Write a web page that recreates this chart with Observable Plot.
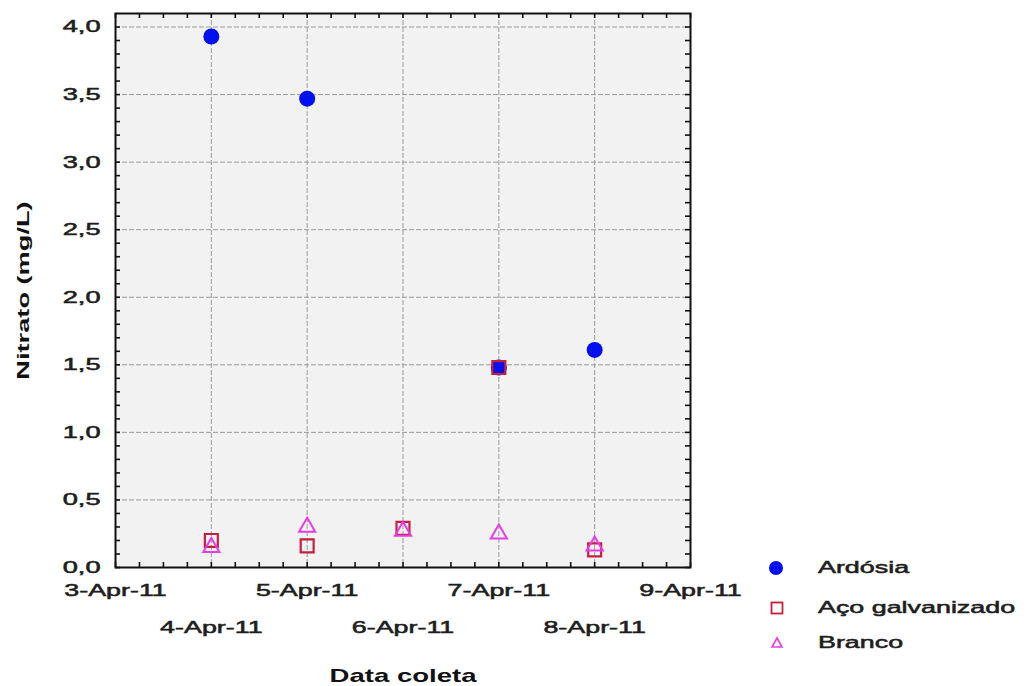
<!DOCTYPE html>
<html><head><meta charset="utf-8">
<script src="https://cdn.jsdelivr.net/npm/d3@7"></script>
<script src="https://cdn.jsdelivr.net/npm/@observablehq/plot@0.6"></script>
<style>
body{margin:0;background:#fff;}
#wrap{position:relative;width:1030px;height:686px;overflow:hidden;}
#wrap svg text{font-family:"Liberation Sans",Arial,sans-serif;}
g[aria-label="x-axis tick label"] text, g[aria-label="y-axis tick label"] text{font-size:17px;fill:#1e1e1e;stroke:#1e1e1e;stroke-width:0.55px;}
g[aria-label="x-axis label"] text{font-size:19px;font-weight:bold;fill:#111;}
g[aria-label="y-axis label"] text{font-size:16px;font-weight:bold;fill:#111;}
#legend{position:absolute;left:762px;top:552px;width:268px;height:110px;font-family:"Liberation Sans",Arial,sans-serif;font-size:17px;color:#1e1e1e;}
.item{position:absolute;left:0;height:22px;white-space:nowrap;}
.item svg{position:absolute;left:0;top:0;}
.item span{position:absolute;left:56px;top:1px;display:inline-block;transform:scaleX(1.58);transform-origin:left center;-webkit-text-stroke:0.55px #1e1e1e;}
</style></head>
<body><div id="wrap"></div>
<script>
// ---- data ----
const dates   = ["2011-04-04","2011-04-05","2011-04-06","2011-04-07","2011-04-08"];
const ardosia = [3.93, 3.47, null, 1.48, 1.61];
const aco     = [0.20, 0.16, 0.29, 1.48, 0.13];
const branco  = [0.15, 0.30, 0.27, 0.25, 0.16];
const seriesNames = ["Ardósia","Aço galvanizado","Branco"];
const yTicks = [0.0,0.5,1.0,1.5,2.0,2.5,3.0,3.5,4.0];
const xTicksRow1 = ["2011-04-03","2011-04-05","2011-04-07","2011-04-09"];
const xTicksRow2 = ["2011-04-04","2011-04-06","2011-04-08"];
const xDomain = ["2011-04-03","2011-04-09"];
const yDomain = [0, 4.1];

const colors = {"Ardósia":"#0010ee","Aço galvanizado":"#c4203c","Branco":"#e83ce8"};

const parse = d3.utcParse("%Y-%m-%d");
const rows = [];
[ardosia, aco, branco].forEach((vals, i) => vals.forEach((v, j) => {
  if (v != null) rows.push({serie: seriesNames[i], date: parse(dates[j]), value: v});
}));
const xd = xDomain.map(parse);
const xMajor = d3.utcDay.range(xd[0], d3.utcDay.offset(xd[1], 1));
const xMinor = d3.utcHour.every(6).range(xd[0], d3.utcHour.offset(xd[1], 1));
const yMinor = d3.range(0, 41).map(d => d / 10);
const fmtX = d3.utcFormat("%-d-%b-%y");
const fmtY = d => d.toFixed(1).replace(".", ",");

const W = 1030, H = 686, mL = 115, mR = 340, mT = 13, mB = 119;
const plotW = W - mL - mR, plotH = H - mT - mB, tick = 5;
const tickMark = {stroke: "#111", strokeWidth: 1.6};

const chart = Plot.plot({
  width: W, height: H,
  marginLeft: mL, marginRight: mR, marginTop: mT, marginBottom: mB,
  style: {background: "white", fontFamily: "Liberation Sans, Arial, sans-serif", color: "#1e1e1e"},
  x: {type: "utc", domain: xd},
  y: {domain: yDomain},
  marks: [
    Plot.frame({fill: "#f2f2f2", stroke: null}),
    Plot.gridX(xMajor, {stroke: "#9a9a9a", strokeOpacity: 1, strokeWidth: 1, strokeDasharray: "5,2"}),
    Plot.gridY(yTicks, {stroke: "#9a9a9a", strokeOpacity: 1, strokeWidth: 1, strokeDasharray: "5,2"}),
    // inner ticks on all four sides
    Plot.tickY(yMinor, {y: d => d, insetRight: plotW - tick, ...tickMark}),
    Plot.tickY(yMinor, {y: d => d, insetLeft: plotW - tick, ...tickMark}),
    Plot.tickX(xMinor, {x: d => d, insetBottom: plotH - tick, ...tickMark}),
    Plot.tickX(xMinor, {x: d => d, insetTop: plotH - tick, ...tickMark}),
    Plot.axisY(yTicks, {anchor: "left", tickSize: 0, tickPadding: 15, tickFormat: fmtY,
      label: "Nitrato (mg/L)", labelAnchor: "center", labelArrow: "none", labelOffset: 98}),
    Plot.axisX(xTicksRow1.map(parse), {anchor: "bottom", tickSize: 0, tickPadding: 16, tickFormat: fmtX,
      label: "Data coleta", labelAnchor: "center", labelArrow: "none", labelOffset: 114}),
    Plot.axisX(xTicksRow2.map(parse), {anchor: "bottom", tickSize: 0, tickPadding: 53, tickFormat: fmtX, label: null}),
    Plot.dot(rows.filter(d => d.serie === "Ardósia"), {x: "date", y: "value", r: 8, fill: colors["Ardósia"], symbol: "circle"}),
    Plot.dot(rows.filter(d => d.serie === "Aço galvanizado"), {x: "date", y: "value", r: 7.3, stroke: colors["Aço galvanizado"], strokeWidth: 2.2, fill: "none", symbol: "square"}),
    Plot.dot(rows.filter(d => d.serie === "Branco"), {x: "date", y: "value", r: 6, stroke: colors["Branco"], strokeWidth: 2, fill: "none", symbol: "triangle"}),
    Plot.frame({stroke: "#111", strokeWidth: 2})
  ]
});
const wrap = document.getElementById("wrap");
wrap.appendChild(chart);

function stretch(sel, f, endAnchor) {
  chart.querySelectorAll(sel).forEach(t => {
    const L = t.getComputedTextLength();
    if (L > 0) {
      t.setAttribute("textLength", L * f);
      t.setAttribute("lengthAdjust", "spacingAndGlyphs");
      if (endAnchor) { t.setAttribute("text-anchor", "start"); t.setAttribute("x", -L * f); }
    }
  });
}
stretch('g[aria-label="x-axis tick label"] text', 1.58);
stretch('g[aria-label="y-axis tick label"] text', 1.6, true);
stretch('g[aria-label="x-axis label"] text', 1.45);
stretch('g[aria-label="y-axis label"] text', 1.7);

// legend (HTML, beside the axis)
const legend = document.createElement("div");
legend.id = "legend";
const symbols = {
  "Ardósia": '<svg width="30" height="22"><circle cx="14" cy="11" r="7" fill="' + colors["Ardósia"] + '"/></svg>',
  "Aço galvanizado": '<svg width="30" height="22"><rect x="9.5" y="5.5" width="11" height="11" fill="none" stroke="' + colors["Aço galvanizado"] + '" stroke-width="1.8"/></svg>',
  "Branco": '<svg width="30" height="22"><path d="M15,6 L20,15 L10,15 Z" fill="none" stroke="' + colors["Branco"] + '" stroke-width="1.6"/></svg>'
};
const tops = [5, 45, 80];
seriesNames.forEach((name, i) => {
  const it = document.createElement("div");
  it.className = "item";
  it.style.top = tops[i] + "px";
  it.innerHTML = symbols[name] + "<span>" + name + "</span>";
  legend.appendChild(it);
});
wrap.appendChild(legend);
</script>
</body></html>
